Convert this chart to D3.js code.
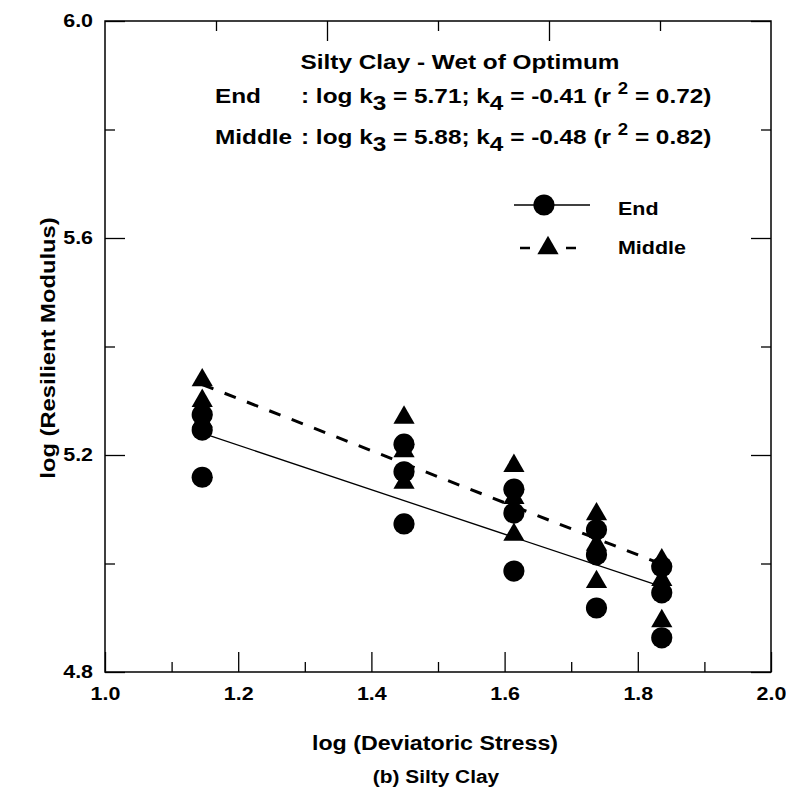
<!DOCTYPE html>
<html>
<head>
<meta charset="utf-8">
<script src="https://cdn.jsdelivr.net/npm/d3@7"></script>
<style>
  html, body { margin: 0; padding: 0; background: #fff; }
  svg { display: block; }
  text { font-family: "Liberation Sans", Arial, sans-serif; font-weight: bold; fill: #000; white-space: pre; }
  /* slightly widened lettering, as in the printed figure */
  .wide { transform: scaleX(1.16); transform-box: fill-box; }
  .o-start { transform-origin: left center; }
  .o-mid { transform-origin: center center; }
  .o-end { transform-origin: right center; }
</style>
</head>
<body>
<svg id="chart" width="786" height="791"></svg>
<script>
// Deviatoric stress levels (log scale) at which both series were tested
const stressLevels = [1.146, 1.449, 1.614, 1.738, 1.836];

// log(Resilient Modulus), three readings per stress level
const endValues = [
  [5.274, 5.246, 5.159],
  [5.220, 5.169, 5.073],
  [5.137, 5.093, 4.986],
  [5.062, 5.016, 4.918],
  [4.994, 4.946, 4.863]
];
const middleValues = [
  [5.338, 5.300, 5.262],
  [5.269, 5.207, 5.149],
  [5.180, 5.121, 5.053],
  [5.091, 5.035, 4.966],
  [5.006, 4.970, 4.894]
];

// Regression coefficients: log MR = log k3 + k4 * log(deviatoric stress)
const endFit = { logk3: 5.71, k4: -0.41, r2: 0.72 };
const middleFit = { logk3: 5.88, k4: -0.48, r2: 0.82 };

// Axis ticks
const xMajorTicks = [1.0, 1.2, 1.4, 1.6, 1.8, 2.0];
const xMinorTicks = [1.1, 1.3, 1.5, 1.7, 1.9];
const yMajorTicks = [4.8, 5.2, 5.6, 6.0];
const yMinorTicks = [5.0, 5.4, 5.8];
const topTicks = [1, 2, 3, 4, 5];

const seriesNames = ["End", "Middle"];

const svg = d3.select("#chart");
const plotLeft = 105, plotRight = 771, plotTop = 21, plotBottom = 672;

const x = d3.scaleLinear().domain([1.0, 2.0]).range([plotLeft, plotRight]);
const y = d3.scaleLinear().domain([4.8, 6.0]).range([plotBottom, plotTop]);
const xTop = d3.scaleLinear().domain([0, 6]).range([plotLeft, plotRight]);

function stretch(sel, origin) {
  return sel.attr("class", "wide o-" + origin);
}

// ---- axes (ticks point inward) ----
const fmt = d3.format(".1f");
const axisStroke = g => {
  g.select(".domain").remove();
  g.selectAll("line").attr("stroke", "#000").attr("stroke-width", 1.3);
};

svg.append("g").attr("transform", `translate(0,${plotBottom})`)
  .call(d3.axisBottom(x).tickValues(xMajorTicks).tickSize(-20).tickPadding(15).tickFormat(fmt))
  .call(axisStroke)
  .call(g => g.selectAll("text").style("font-size", "18.5px").attr("class", "wide o-mid"));
svg.append("g").attr("transform", `translate(0,${plotBottom})`)
  .call(d3.axisBottom(x).tickValues(xMinorTicks).tickSize(-10).tickFormat(""))
  .call(axisStroke);

svg.append("g").attr("transform", `translate(${plotLeft},0)`)
  .call(d3.axisLeft(y).tickValues(yMajorTicks).tickSize(-20).tickPadding(12).tickFormat(fmt))
  .call(axisStroke)
  .call(g => g.selectAll("text").style("font-size", "18.5px").attr("class", "wide o-end"));
svg.append("g").attr("transform", `translate(${plotLeft},0)`)
  .call(d3.axisLeft(y).tickValues(yMinorTicks).tickSize(-10).tickFormat(""))
  .call(axisStroke);

svg.append("g").attr("transform", `translate(${plotRight},0)`)
  .call(d3.axisRight(y).tickValues(yMajorTicks).tickSize(-20).tickFormat(""))
  .call(axisStroke);
svg.append("g").attr("transform", `translate(${plotRight},0)`)
  .call(d3.axisRight(y).tickValues(yMinorTicks).tickSize(-10).tickFormat(""))
  .call(axisStroke);

svg.append("g").attr("transform", `translate(0,${plotTop})`)
  .call(d3.axisTop(xTop).tickValues(topTicks).tickSizeInner(0).tickFormat(""))
  .call(axisStroke)
  .call(g => g.selectAll(".tick line").attr("y2", d => d % 2 === 0 ? 20 : 10));

// plot frame
svg.append("rect")
  .attr("x", plotLeft).attr("y", plotTop)
  .attr("width", plotRight - plotLeft).attr("height", plotBottom - plotTop)
  .attr("fill", "none").attr("stroke", "#000").attr("stroke-width", 1.5);

// ---- regression lines ----
const fitLine = fit => d3.line()
  .x(d => x(d))
  .y(d => y(fit.logk3 + fit.k4 * d));
const xSpan = d3.extent(stressLevels);

svg.append("path")
  .attr("d", fitLine(endFit)(xSpan))
  .attr("fill", "none").attr("stroke", "#000").attr("stroke-width", 1.3);
svg.append("path")
  .attr("d", fitLine(middleFit)(xSpan))
  .attr("fill", "none").attr("stroke", "#000").attr("stroke-width", 3)
  .attr("stroke-dasharray", "12,12");

// ---- data points ----
const flatten = vals => vals.flatMap((grp, i) => grp.map(v => ({ x: stressLevels[i], v })));
const tri = d3.symbol().type(d3.symbolTriangle).size(195);

svg.append("g").selectAll("path")
  .data(flatten(middleValues))
  .join("path")
  .attr("d", tri)
  .attr("transform", d => `translate(${x(d.x)},${y(d.v)})`)
  .attr("fill", "#000");

svg.append("g").selectAll("circle")
  .data(flatten(endValues))
  .join("circle")
  .attr("cx", d => x(d.x)).attr("cy", d => y(d.v))
  .attr("r", 10.6).attr("fill", "#000");

// ---- annotation block ----
function richText(xPos, yPos, parts, size) {
  const t = svg.append("text").attr("x", xPos).attr("y", yPos).style("font-size", size + "px");
  stretch(t, "start");
  let shift = 0;
  parts.forEach(p => {
    const s = p.shift || 0;
    t.append("tspan")
      .attr("dy", s - shift)
      .style("font-size", (p.size || size) + "px")
      .text(p.t);
    shift = s;
  });
  return t;
}

stretch(svg.append("text").attr("x", 460).attr("y", 69)
  .attr("text-anchor", "middle").style("font-size", "21px")
  .text("Silty Clay - Wet of Optimum"), "mid");

function equationParts(fit) {
  return [
    { t: ": log k" }, { t: "3", shift: 7 },
    { t: " = " + fit.logk3.toFixed(2) + "; k" }, { t: "4", shift: 7 },
    { t: " = " + fit.k4.toFixed(2) + " (r " }, { t: "2", shift: -9, size: 16 },
    { t: " = " + fit.r2.toFixed(2) + ")" }
  ];
}

stretch(svg.append("text").attr("x", 215).attr("y", 103).style("font-size", "21px").text(seriesNames[0]), "start");
richText(301, 103, equationParts(endFit), 21);
stretch(svg.append("text").attr("x", 215).attr("y", 144).style("font-size", "21px").text(seriesNames[1]), "start");
richText(301, 144, equationParts(middleFit), 21);

// ---- legend ----
const legend = svg.append("g");
legend.append("line").attr("x1", 514).attr("x2", 590).attr("y1", 205).attr("y2", 205)
  .attr("stroke", "#000").attr("stroke-width", 1.3);
legend.append("circle").attr("cx", 544).attr("cy", 205).attr("r", 10.6).attr("fill", "#000");
legend.append("line").attr("x1", 520).attr("x2", 576).attr("y1", 248).attr("y2", 248)
  .attr("stroke", "#000").attr("stroke-width", 2.5).attr("stroke-dasharray", "10,36");
legend.append("path").attr("d", tri).attr("transform", "translate(548,248)").attr("fill", "#000");
stretch(legend.append("text").attr("x", 618).attr("y", 215).style("font-size", "18.5px").text(seriesNames[0]), "start");
stretch(legend.append("text").attr("x", 618).attr("y", 254).style("font-size", "18.5px").text(seriesNames[1]), "start");

// ---- axis titles ----
stretch(svg.append("text").attr("x", 435).attr("y", 750).attr("text-anchor", "middle")
  .style("font-size", "20px").text("log (Deviatoric Stress)"), "mid");
stretch(svg.append("text").attr("x", 436).attr("y", 783).attr("text-anchor", "middle")
  .style("font-size", "18px").text("(b) Silty Clay"), "mid");

svg.append("g").attr("transform", "translate(55,348) rotate(-90)")
  .call(g => stretch(g.append("text").attr("text-anchor", "middle")
    .style("font-size", "20.5px").text("log (Resilient Modulus)"), "mid"));
</script>
</body>
</html>
